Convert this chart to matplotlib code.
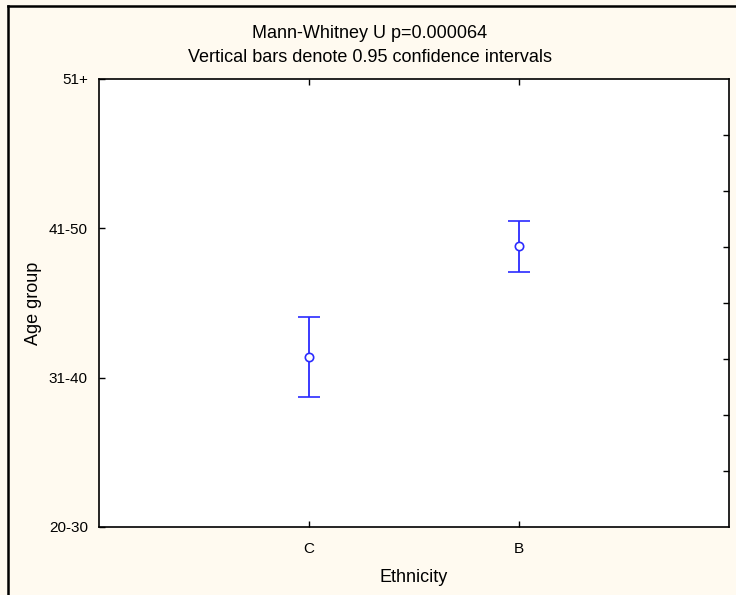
import numpy as np
import matplotlib
matplotlib.use("Agg")
import matplotlib.pyplot as plt
from matplotlib.lines import Line2D

plt.rcParams['font.family'] = ['Liberation Sans', 'DejaVu Sans']

# data (age group coded 1..4)
groups = ['C', 'B']
means = [2.140, 2.882]
ci_low = [1.870, 2.708]
ci_high = [2.409, 3.051]
age_labels = ['20-30', '31-40', '41-50', '51+']
title_lines = ['Mann-Whitney U p=0.000064',
               'Vertical bars denote 0.95 confidence intervals']

W, H = 736, 595
fig = plt.figure(figsize=(W / 100, H / 100), dpi=100, facecolor='#FFFAF0')
ax = fig.add_axes([99 / W, 1 - 527 / H, 630 / W, 448 / H])
ax.set_facecolor('white')

x = np.arange(1, len(groups) + 1)
means = np.array(means)
yerr = [means - np.array(ci_low), np.array(ci_high) - means]
ax.errorbar(x, means, yerr=yerr, fmt='o', color='#2b2bff', ecolor='#2b2bff',
            elinewidth=1.3, capsize=8, capthick=1.3, markersize=6,
            markerfacecolor='white', markeredgecolor='#2b2bff', markeredgewidth=1.2)

ax.set_xlim(0, 3)
ax.set_ylim(1, 4)
ax.set_xticks(x)
ax.set_xticklabels(groups)
ax.set_yticks(np.arange(1, 5))
ax.set_yticklabels(age_labels)

for s in ax.spines.values():
    s.set_linewidth(1.2)
ax.tick_params(axis='both', direction='in', length=4, width=1, labelsize=11, colors='black')
ax.tick_params(axis='x', top=True, pad=11)
ax.tick_params(axis='y', pad=8)

# right-side ticks in STATISTICA style
ax2 = ax.twinx()
ax2.set_ylim(1, 4)
ax2.set_yticks(np.linspace(1, 4, 9)[1:-1])
ax2.set_yticklabels([])
ax2.tick_params(axis='y', direction='in', length=4, width=1)
for s in ax2.spines.values():
    s.set_visible(False)

ax.set_xlabel('Ethnicity', fontsize=13, labelpad=9)
ax.set_ylabel('Age group', fontsize=13, labelpad=5)

fig.text(370 / W, 1 - 34 / H, title_lines[0], ha='center', va='center', fontsize=13)
fig.text(370 / W, 1 - 58 / H, title_lines[1], ha='center', va='center', fontsize=13)

# outer frame (only left and top edges are visible in the crop)
fig.add_artist(Line2D([7.7 / W, 7.7 / W], [0, 1 - 6.3 / H], transform=fig.transFigure,
                      color='black', linewidth=1.8))
fig.add_artist(Line2D([7.7 / W, 1], [1 - 6.3 / H, 1 - 6.3 / H], transform=fig.transFigure,
                      color='black', linewidth=1.8))

fig.savefig('out.png', dpi=100, facecolor=fig.get_facecolor())
